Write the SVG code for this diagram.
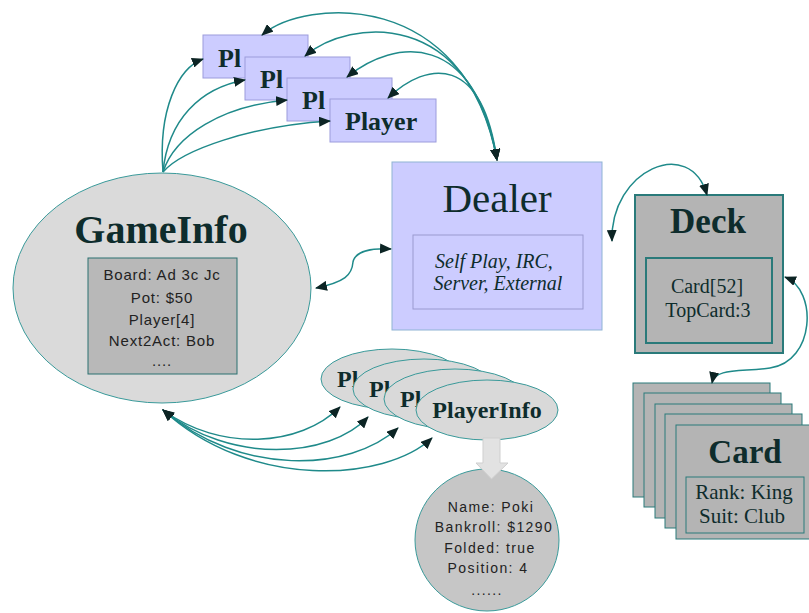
<svg xmlns="http://www.w3.org/2000/svg" width="809" height="613" viewBox="0 0 809 613">
  <defs>
    <marker id="ah" markerUnits="userSpaceOnUse" markerWidth="12" markerHeight="10" refX="11" refY="5" orient="auto-start-reverse">
      <path d="M0,0 L12,5 L0,10 z" fill="#0c2424"/>
    </marker>
    <style>
      .conn { fill: none; stroke: #1f8a8a; stroke-width: 1.5; marker-end: url(#ah); }
      .both { marker-start: url(#ah); }
      .player { fill: #ccccff; stroke: #9c9cdc; stroke-width: 1; }
      .ptitle { font-family: "Liberation Serif", serif; font-weight: bold; font-size: 26px; fill: #0e2c2c; }
      .pinfo { fill: #d9d9d9; stroke: #3a9a9a; stroke-width: 1; }
      .pititle { font-family: "Liberation Serif", serif; font-weight: bold; font-size: 24px; fill: #0e2c2c; }
      .gray { fill: #b4b4b4; stroke: #2a7a7a; }
      .serif { font-family: "Liberation Serif", serif; fill: #0e2c2c; text-anchor: middle; }
      .sans { font-family: "Liberation Sans", sans-serif; fill: #222222; text-anchor: middle; }
    </style>
  </defs>

  <rect width="809" height="613" fill="#ffffff"/>

  <!-- Player objects, stacked -->
  <g id="player-1">
    <rect class="player" x="203" y="35" width="105" height="43"/>
    <text class="ptitle" x="218" y="67">Pl</text>
  </g>
  <g id="player-2">
    <rect class="player" x="245" y="57" width="105" height="43"/>
    <text class="ptitle" x="260" y="88">Pl</text>
  </g>
  <g id="player-3">
    <rect class="player" x="287" y="78" width="105" height="43"/>
    <text class="ptitle" x="302" y="109">Pl</text>
  </g>
  <g id="player-4">
    <rect class="player" x="330" y="99" width="106" height="43"/>
    <text class="ptitle" x="345" y="130">Player</text>
  </g>

  <!-- GameInfo -->
  <g id="gameinfo">
    <ellipse cx="162" cy="288" rx="149" ry="115" fill="#dadada" stroke="#3a9a9a" stroke-width="1"/>
    <text class="serif" x="161" y="243" font-size="40" font-weight="bold">GameInfo</text>
    <rect x="88" y="258" width="149" height="116" fill="#b8b8b8" stroke="#2a7070" stroke-width="1"/>
    <g class="sans" font-size="15" letter-spacing="0.8">
      <text x="162" y="280">Board: Ad 3c Jc</text>
      <text x="162" y="303">Pot: $50</text>
      <text x="162" y="325">Player[4]</text>
      <text x="162" y="346">Next2Act: Bob</text>
      <text x="162" y="366">....</text>
    </g>
  </g>

  <!-- Dealer -->
  <g id="dealer">
    <rect x="392" y="162" width="210" height="168" fill="#ccccff" stroke="#8fb4d4" stroke-width="1"/>
    <text class="serif" x="497" y="212" font-size="41" fill="#14283a">Dealer</text>
    <rect x="413" y="235" width="170" height="74" fill="#ccccff" stroke="#9a9ad0" stroke-width="1"/>
    <g class="serif" font-size="20" font-style="italic" fill="#2c2c3c">
      <text x="494" y="268">Self Play, IRC,</text>
      <text x="498" y="290">Server, External</text>
    </g>
  </g>

  <!-- Deck -->
  <g id="deck">
    <rect class="gray" x="635" y="195" width="148" height="158" stroke-width="2"/>
    <text class="serif" x="708" y="233" font-size="35" font-weight="bold">Deck</text>
    <rect x="646" y="258" width="126" height="85" fill="none" stroke="#2a7a7a" stroke-width="2"/>
    <g class="serif" font-size="20">
      <text x="707" y="293">Card[52]</text>
      <text x="708" y="317">TopCard:3</text>
    </g>
  </g>

  <!-- Card objects, stacked -->
  <g id="card-1"><rect class="gray" x="633" y="383" width="137" height="114" stroke-width="1"/></g>
  <g id="card-2"><rect class="gray" x="644" y="393" width="137" height="114" stroke-width="1"/></g>
  <g id="card-3"><rect class="gray" x="655" y="404" width="137" height="114" stroke-width="1"/></g>
  <g id="card-4"><rect class="gray" x="665" y="414" width="137" height="114" stroke-width="1"/></g>
  <g id="card-5">
    <rect class="gray" x="676" y="425" width="137" height="114" stroke-width="1"/>
    <text class="serif" x="745" y="463" font-size="33" font-weight="bold">Card</text>
    <rect x="686" y="477" width="118" height="56" fill="none" stroke="#2a7a7a" stroke-width="1"/>
    <g class="serif" font-size="21">
      <text x="744" y="499">Rank: King</text>
      <text x="742" y="523">Suit: Club</text>
    </g>
  </g>

  <!-- PlayerInfo objects, stacked -->
  <g id="playerinfo-1">
    <ellipse class="pinfo" cx="392" cy="379" rx="71" ry="30"/>
    <text class="pititle" x="337" y="387">Pl</text>
  </g>
  <g id="playerinfo-2">
    <ellipse class="pinfo" cx="424" cy="389" rx="71" ry="30"/>
    <text class="pititle" x="369" y="397">Pl</text>
  </g>
  <g id="playerinfo-3">
    <ellipse class="pinfo" cx="455" cy="399" rx="71" ry="30"/>
    <text class="pititle" x="400" y="407">Pl</text>
  </g>
  <g id="playerinfo-4">
    <ellipse class="pinfo" cx="487" cy="410" rx="71" ry="30"/>
    <text class="pititle" x="487" y="418" text-anchor="middle">PlayerInfo</text>
  </g>

  <!-- PlayerInfo detail -->
  <g id="playerinfo-detail">
    <ellipse cx="487" cy="540" rx="72" ry="71" fill="#c6c6c6" stroke="#3a9a9a" stroke-width="1"/>
    <g class="sans" font-size="14" letter-spacing="1.4">
      <text x="491" y="512">Name: Poki</text>
      <text x="494" y="532">Bankroll: $1290</text>
      <text x="490" y="553">Folded: true</text>
      <text x="488" y="573">Position: 4</text>
      <text x="487" y="595">......</text>
    </g>
  </g>

  <!-- Connectors -->
  <g id="connectors">
    <!-- GameInfo to each Player -->
    <path class="conn" d="M163 172 C158 110 178 68 203 59"/>
    <path class="conn" d="M163 172 C168 120 200 88 245 80"/>
    <path class="conn" d="M163 172 C175 135 222 106 287 100"/>
    <path class="conn" d="M163 172 C182 150 250 126 330 121"/>
    <!-- Dealer to each Player -->
    <path class="conn both" d="M262 35 C305 -2 465 -12 497 160"/>
    <path class="conn both" d="M305 56 C350 18 470 8 497 160"/>
    <path class="conn both" d="M347 77 C395 38 475 30 497 160"/>
    <path class="conn both" d="M388 98 C428 60 482 55 497 160"/>
    <!-- GameInfo to Dealer -->
    <path class="conn both" d="M316 288 C345 282 352 275 353 262 C355 252 370 248 391 249"/>
    <!-- Dealer to Deck -->
    <path class="conn both" d="M612 241 C610 170 690 135 707 195"/>
    <!-- Deck to Card -->
    <path class="conn both" d="M785 277 C818 290 815 362 770 368 C740 372 715 368 712 383"/>
    <!-- GameInfo to each PlayerInfo -->
    <path class="conn both" d="M163 410 C220 452 300 447 340 407"/>
    <path class="conn both" d="M163 410 C230 465 330 458 368 417"/>
    <path class="conn both" d="M163 410 C240 477 350 472 398 428"/>
    <path class="conn both" d="M163 410 C250 490 385 482 432 438"/>
    <!-- PlayerInfo expands to its detail -->
    <path d="M483 438 L500 438 L500 463 L508 463 L491.5 479 L476 463 L483 463 z" fill="#e2e2e2" stroke="#cfcfcf" stroke-width="1"/>
  </g>
</svg>
